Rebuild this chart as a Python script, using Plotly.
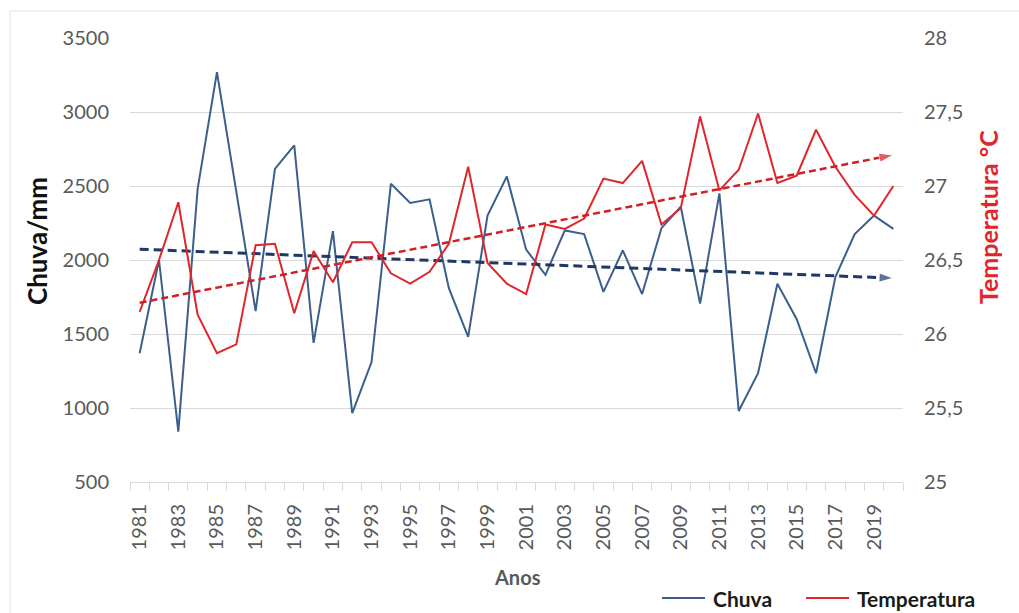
import numpy as np
import plotly.graph_objects as go

# Annual series, 1981-2020
anos = list(range(1981, 2021))

chuva = [1370, 2000, 840, 2480, 3270, 2470, 1655, 2615, 2775, 1440,
         2195, 965, 1310, 2515, 2385, 2410, 1810, 1480, 2300, 2565,
         2070, 1900, 2200, 2175, 1785, 2065, 1770, 2215, 2360, 1705,
         2450, 980, 1235, 1840, 1600, 1235, 1885, 2175, 2300, 2210]

temperatura = [26.15, 26.50, 26.89, 26.13, 25.87, 25.93, 26.60, 26.61, 26.14, 26.56,
               26.35, 26.62, 26.62, 26.41, 26.34, 26.42, 26.61, 27.13, 26.48, 26.34,
               26.27, 26.74, 26.71, 26.78, 27.05, 27.02, 27.17, 26.74, 26.85, 27.47,
               26.97, 27.11, 27.49, 27.02, 27.07, 27.38, 27.13, 26.94, 26.80, 27.00]

left_ticks = [500, 1000, 1500, 2000, 2500, 3000, 3500]
right_ticks = [25, 25.5, 26, 26.5, 27, 27.5, 28]
right_labels = ["25", "25,5", "26", "26,5", "27", "27,5", "28"]
x_ticks = list(range(1981, 2021, 2))
series_names = ["Chuva", "Temperatura"]

AZUL = "#3b5f8c"
AZUL_TEND = "#1f3864"
VERMELHO = "#e0262b"
VERMELHO_TEND = "#d01f25"
CINZA = "#595959"
GRADE = "#d9d9d9"
FONTE = "Lato"

# Linear trends (least squares) from the series
x_arr = np.array(anos, dtype=float)
cb, ca = np.polyfit(x_arr, np.array(chuva, dtype=float), 1)
tb, ta = np.polyfit(x_arr, np.array(temperatura, dtype=float), 1)
x_end = [anos[0], anos[-1]]
chuva_tend = [cb * v + ca for v in x_end]
temp_tend = [tb * v + ta for v in x_end]

fig = go.Figure()

fig.add_trace(go.Scatter(
    x=anos, y=chuva, name=series_names[0], mode="lines",
    line=dict(color=AZUL, width=2), yaxis="y"))

fig.add_trace(go.Scatter(
    x=anos, y=temperatura, name=series_names[1], mode="lines",
    line=dict(color=VERMELHO, width=2), yaxis="y2"))

fig.add_trace(go.Scatter(
    x=x_end, y=chuva_tend, mode="lines+markers", showlegend=False,
    line=dict(color=AZUL_TEND, width=3, dash="9px,5px"),
    marker=dict(symbol="arrow", size=[0, 15], angleref="previous",
                color=AZUL_TEND),
    yaxis="y"))

fig.add_trace(go.Scatter(
    x=x_end, y=temp_tend, mode="lines+markers", showlegend=False,
    line=dict(color=VERMELHO_TEND, width=2.5, dash="7px,4px"),
    marker=dict(symbol="arrow", size=[0, 15], angleref="previous",
                color=VERMELHO_TEND),
    yaxis="y2"))

L, R, T, B = 130, 116, 38, 131
W, H = 1019, 613
pw, ph = W - L - R, H - T - B


def px_x(p):
    return (p - L) / pw


def px_y(p):
    return (H - B - p) / ph


fig.update_layout(
    width=W, height=H,
    margin=dict(l=L, r=R, t=T, b=B, autoexpand=False),
    paper_bgcolor="white", plot_bgcolor="white",
    font=dict(family=FONTE, color=CINZA),
    showlegend=False,
    xaxis=dict(
        range=[1980.5, 2020.5], automargin=False,
        tickmode="array", tickvals=x_ticks, ticktext=[str(v) for v in x_ticks],
        tickangle=-90, tickfont=dict(size=20, color=CINZA),
        ticks="", ticklabelstandoff=13,
        showgrid=False, zeroline=False,
        showline=True, linecolor=GRADE, linewidth=1,
        minor=dict(tick0=1980.5, dtick=1, ticks="outside", ticklen=8,
                   tickcolor=GRADE, showgrid=False),
    ),
    yaxis=dict(
        range=[500, 3500], tickvals=left_ticks, automargin=False,
        tickfont=dict(size=20, color=CINZA),
        showgrid=True, gridcolor=GRADE, gridwidth=1,
        zeroline=False, showline=False, ticks="", ticklabelstandoff=20,
    ),
    yaxis2=dict(
        range=[25, 28], tickvals=right_ticks, ticktext=right_labels,
        overlaying="y", side="right", automargin=False,
        tickfont=dict(size=20, color=CINZA),
        showgrid=False, zeroline=False, showline=False, ticks="",
        ticklabelstandoff=20,
    ),
)

# Axis titles
fig.add_annotation(
    text="<b>Chuva/mm</b>", xref="paper", yref="paper",
    x=px_x(37), y=px_y(241), xanchor="center", yanchor="middle",
    showarrow=False, textangle=-90,
    font=dict(family=FONTE, size=26, color="#111111"))
fig.add_annotation(
    text="<b>Temperatura °C</b>", xref="paper", yref="paper",
    x=px_x(988), y=px_y(217), xanchor="center", yanchor="middle",
    showarrow=False, textangle=-90,
    font=dict(family=FONTE, size=25, color=VERMELHO))
fig.add_annotation(
    text="<b>Anos</b>", xref="paper", yref="paper",
    x=px_x(517), y=px_y(577), xanchor="center", yanchor="middle",
    showarrow=False,
    font=dict(family=FONTE, size=20, color=CINZA))

# Legend: line sample plus label for each series
legend_items = [(series_names[0], AZUL, 662, 705, 711),
                (series_names[1], VERMELHO, 806, 849, 855)]
for nome, cor, l0, l1, tx in legend_items:
    fig.add_shape(type="line", xref="paper", yref="paper",
                  x0=px_x(l0), x1=px_x(l1), y0=px_y(598), y1=px_y(598),
                  line=dict(color=cor, width=2))
    fig.add_annotation(
        text=f"<b>{nome}</b>", xref="paper", yref="paper",
        x=px_x(tx), y=px_y(598), xanchor="left", yanchor="middle",
        showarrow=False,
        font=dict(family=FONTE, size=21, color="#1a1a1a"))

# Light chart frame on the top and left sides
fig.add_shape(type="line", xref="paper", yref="paper",
              x0=px_x(10), x1=px_x(W + 5), y0=px_y(11), y1=px_y(11),
              line=dict(color="#e3e3e3", width=1))
fig.add_shape(type="line", xref="paper", yref="paper",
              x0=px_x(10), x1=px_x(10), y0=px_y(11), y1=px_y(H + 5),
              line=dict(color="#e3e3e3", width=1))

fig.write_html("out.html")
